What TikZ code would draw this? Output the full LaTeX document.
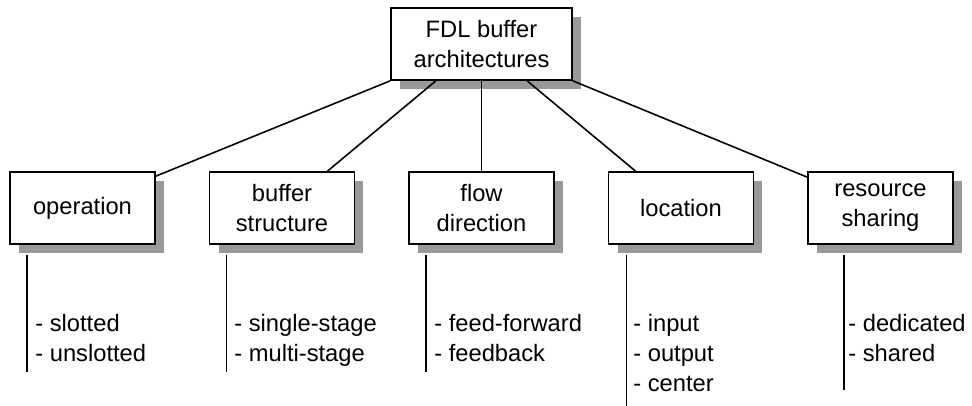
\documentclass[tikz,border=0pt]{standalone}
\usepackage{fontspec}
\setmainfont{Liberation Sans}
\usepackage{tikz}
\usetikzlibrary{shadows,positioning,calc}

\begin{document}
\begin{tikzpicture}[x=0.02cm,y=-0.02cm,
  kasten/.style={draw,line width=1pt,fill=white,minimum width=2.9cm,minimum height=1.44cm,
    align=center,inner sep=2pt,font=\fontsize{13.5}{17}\selectfont,
    drop shadow={shadow xshift=0.18cm,shadow yshift=-0.18cm,opacity=1,fill=black!40}},
  ast/.style={line width=0.9pt},
  liste/.style={align=left,anchor=north west,inner sep=0pt,font=\fontsize{13.5}{17}\selectfont}]
\useasboundingbox (0,0) rectangle (972,405);
%Oberer Kasten
\node[kasten,minimum width=3.62cm] (fdl) at (481.5,44) {FDL buffer\\architectures};
%Untere Kaesten, Abstand 199.5 px
\node[kasten] (op)   at (82.5,208)  {operation};
\node[kasten] (buf)  at (282,208)   {buffer\\structure};
\node[kasten] (flow) at (481.5,208) {flow\\direction};
\node[kasten] (loc)  at (681,208)   {location};
\node[kasten] (res)  at (880.5,208) {resource\\sharing};
%Aeste
\draw[ast] (fdl.south west) -- ([yshift=-0.1cm]op.north east);
\draw[ast] ($(fdl.south west)!0.25!(fdl.south east)$) -- ($(buf.north west)!0.81!(buf.north east)$);
\draw[ast] (fdl.south) -- (flow.north);
\draw[ast] ($(fdl.south west)!0.75!(fdl.south east)$) -- ($(loc.north west)!0.19!(loc.north east)$);
\draw[ast] (fdl.south east) -- ([yshift=-0.12cm]res.north west);
%Listen
\node[liste] (opl)   at (35,314)  {- slotted\\- unslotted};
\node[liste] (bufl)  at (234,314) {- single-stage\\- multi-stage};
\node[liste] (flowl) at (434,314) {- feed-forward\\- feedback};
\node[liste] (locl)  at (633,314) {- input\\- output\\- center};
\node[liste] (resl)  at (848,314) {- dedicated\\- shared};
%Staebe
\draw[ast] ([xshift=0.36cm,yshift=-0.2cm]op.south west) -- ++(0,117);
\draw[ast] ([xshift=0.36cm,yshift=-0.2cm]buf.south west) -- ++(0,117);
\draw[ast] ([xshift=0.36cm,yshift=-0.2cm]flow.south west) -- ++(0,117);
\draw[ast] ([xshift=0.38cm,yshift=-0.2cm]loc.south west) -- ++(0,151);
\draw[ast] ([xshift=0.74cm,yshift=-0.2cm]res.south west) -- ++(0,135);
\end{tikzpicture}
\end{document}
